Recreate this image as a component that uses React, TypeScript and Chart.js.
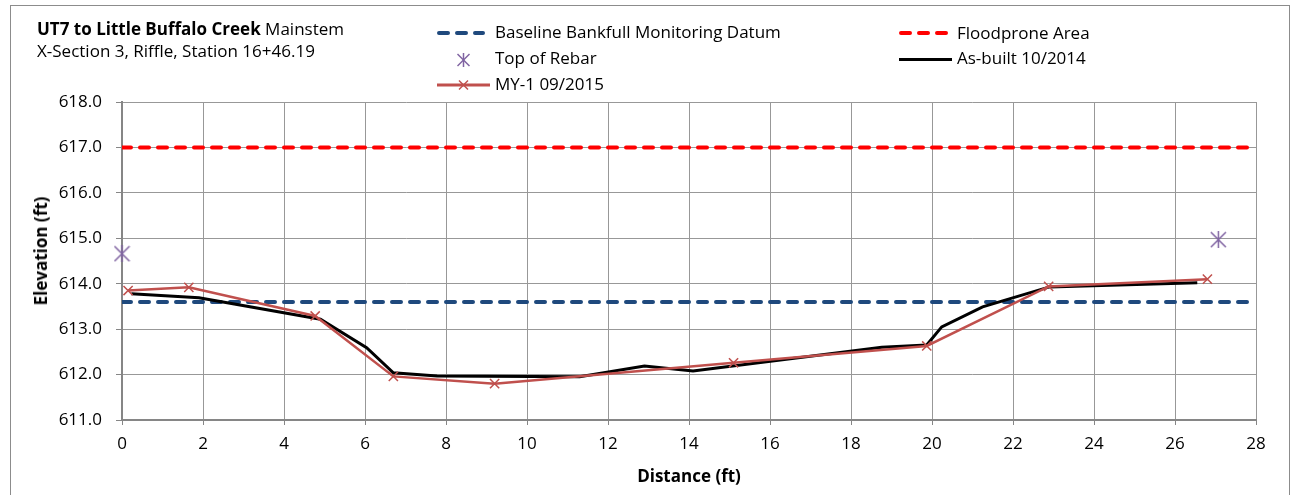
import React, { useEffect, useRef } from "react";
import { Chart, registerables } from "chart.js";

Chart.register(...registerables);

const FONT = "'Open Sans', Lato, sans-serif";
const FS = 17;

// ---- data ----
const asBuiltX = [0.23, 1.9, 4.9, 6.04, 6.7, 7.78, 11.3, 12.9, 14.1, 18.76, 19.87, 20.24, 21.25, 22.9, 26.55];
const asBuiltY = [613.78, 613.69, 613.22, 612.59, 612.04, 611.97, 611.95, 612.19, 612.08, 612.6, 612.65, 613.05, 613.49, 613.93, 614.02];

const my1X = [0.15, 1.65, 4.77, 6.7, 9.2, 15.1, 19.87, 22.88, 26.8];
const my1Y = [613.85, 613.92, 613.29, 611.96, 611.8, 612.26, 612.63, 613.94, 614.1];

const rebarX = [0.0, 27.07];
const rebarY = [614.66, 614.97];

const datumX = [0, 28];
const baselineElev = 613.6;
const floodproneElev = 617.0;

const xMin = 0, xMax = 28, xStep = 2;
const yMin = 611, yMax = 618, yStep = 1;

const BLUE = "#1F497D";
const RED = "#FF0000";
const MY1 = "#C0504D";
const REBAR = "#8064A2";

function zip(xs: number[], ys: number[]) {
  return xs.map((x, i) => ({ x, y: ys[i] }));
}

function rebarImage(size: number) {
  const c = document.createElement("canvas");
  c.width = size;
  c.height = size;
  const ctx = c.getContext("2d")!;
  ctx.strokeStyle = REBAR;
  ctx.lineWidth = 1.5;
  const m = 1;
  ctx.beginPath();
  ctx.moveTo(m, m);
  ctx.lineTo(size - m, size - m);
  ctx.moveTo(size - m, m);
  ctx.lineTo(m, size - m);
  ctx.moveTo(size / 2, 0);
  ctx.lineTo(size / 2, size);
  ctx.stroke();
  return c;
}

// top of an 18px line box whose text baseline should sit at y = b
const bt = (b: number) => b - 15.6;

const textStyle = (left: number, top: number, extra: any = {}) => ({
  position: "absolute" as const,
  left,
  top,
  fontFamily: FONT,
  fontSize: FS,
  lineHeight: "18px",
  whiteSpace: "nowrap" as const,
  color: "#000",
  ...extra,
});

export default function App() {
  const ref = useRef<HTMLCanvasElement>(null);

  useEffect(() => {
    const canvas = ref.current!;
    const chart = new Chart(canvas, {
      type: "scatter",
      data: {
        datasets: [
          {
            label: "MY-1 09/2015",
            data: zip(my1X, my1Y),
            showLine: true,
            borderColor: MY1,
            borderWidth: 2.5,
            pointStyle: "crossRot",
            pointRadius: 6.5,
            pointBorderWidth: 1.5,
            pointBorderColor: MY1,
            pointBackgroundColor: MY1,
            order: 1,
            clip: false,
          },
          {
            label: "As-built 10/2014",
            data: zip(asBuiltX, asBuiltY),
            showLine: true,
            borderColor: "#000",
            borderWidth: 3,
            pointRadius: 0,
            order: 2,
          },
          {
            label: "Top of Rebar",
            data: zip(rebarX, rebarY),
            showLine: false,
            pointStyle: rebarImage(17) as any,
            pointRadius: 8,
            order: 3,
            clip: false,
          },
          {
            label: "Baseline Bankfull Monitoring Datum",
            data: datumX.map((x) => ({ x, y: baselineElev })),
            showLine: true,
            borderColor: BLUE,
            borderWidth: 4,
            borderDash: [9, 9],
            borderCapStyle: "round",
            pointRadius: 0,
            order: 4,
          },
          {
            label: "Floodprone Area",
            data: datumX.map((x) => ({ x, y: floodproneElev })),
            showLine: true,
            borderColor: RED,
            borderWidth: 4,
            borderDash: [9, 9],
            borderCapStyle: "round",
            pointRadius: 0,
            order: 5,
          },
        ] as any,
      },
      options: {
        animation: false,
        responsive: false,
        devicePixelRatio: 1,
        layout: { padding: { left: 10, right: 39, top: 102, bottom: 8 } },
        plugins: { legend: { display: false }, tooltip: { enabled: false } },
        scales: {
          x: {
            type: "linear",
            min: xMin,
            max: xMax,
            afterFit: (s: any) => {
              s.height = 495 - 8 - 420;
            },
            ticks: {
              stepSize: xStep,
              color: "#000",
              padding: 9,
              font: { family: FONT, size: FS },
            },
            grid: { color: "#989898", lineWidth: 1, tickLength: 5, tickColor: "#868686" },
            border: { color: "#868686", width: 2 },
            title: {
              display: true,
              text: "Distance (ft)",
              color: "#000",
              font: { family: FONT, size: FS, weight: "bold" },
              padding: { top: 0, bottom: 0 },
            },
          },
          y: {
            type: "linear",
            min: yMin,
            max: yMax,
            afterFit: (s: any) => {
              s.width = 122 - 10;
            },
            ticks: {
              stepSize: yStep,
              color: "#000",
              padding: 14,
              font: { family: FONT, size: FS },
              callback: (v: any) => Number(v).toFixed(1),
            },
            grid: { color: "#989898", lineWidth: 1, tickLength: 6, tickColor: "#868686" },
            border: { color: "#868686", width: 2 },
          },
        },
      },
    });
    return () => chart.destroy();
  }, []);

  return (
    <div style={{ position: "absolute", left: 0, top: 0, width: 1295, height: 495, background: "#fff", overflow: "hidden" }}>
      <div style={{ position: "absolute", left: 10, top: 5, width: 1280, height: 520, border: "1px solid #8c8c8c", boxSizing: "border-box" }} />
      <canvas ref={ref} width={1295} height={495} style={{ position: "absolute", left: 0, top: 0, width: 1295, height: 495 }} />

      <div style={textStyle(37, bt(35.7))}>
        <b>UT7 to Little Buffalo Creek</b> Mainstem
      </div>
      <div style={textStyle(37, bt(58))}>X-Section 3, Riffle, Station 16+46.19</div>

      {/* legend */}
      <svg style={{ position: "absolute", left: 0, top: 0 }} width={1295} height={100}>
        <line x1={439} y1={33} x2={483} y2={33} stroke={BLUE} strokeWidth={4} strokeDasharray="9 9" strokeLinecap="round" />
        <line x1={901} y1={33} x2={946} y2={33} stroke={RED} strokeWidth={4} strokeDasharray="9 9" strokeLinecap="round" />
        <g stroke={REBAR} strokeWidth={1.5}>
          <line x1={457.5} y1={54} x2={469.5} y2={66} />
          <line x1={469.5} y1={54} x2={457.5} y2={66} />
          <line x1={463.5} y1={53} x2={463.5} y2={67} />
        </g>
        <line x1={899} y1={59.5} x2={952} y2={59.5} stroke="#000" strokeWidth={3} />
        <line x1={437} y1={85} x2={490} y2={85} stroke={MY1} strokeWidth={3} />
        <g stroke={MY1} strokeWidth={1.5}>
          <line x1={459} y1={80.5} x2={468} y2={89.5} />
          <line x1={468} y1={80.5} x2={459} y2={89.5} />
        </g>
      </svg>
      <div style={textStyle(495, bt(39))}>Baseline Bankfull Monitoring Datum</div>
      <div style={textStyle(495, bt(64.5))}>Top of Rebar</div>
      <div style={textStyle(495, bt(90.5))}>MY-1 09/2015</div>
      <div style={textStyle(957, bt(39.5))}>Floodprone Area</div>
      <div style={textStyle(957, bt(65))}>As-built 10/2014</div>

      <div
        style={textStyle(41, 251, {
          fontWeight: "bold",
          transform: "translate(-50%, -50%) rotate(-90deg)",
        })}
      >
        Elevation (ft)
      </div>
    </div>
  );
}
